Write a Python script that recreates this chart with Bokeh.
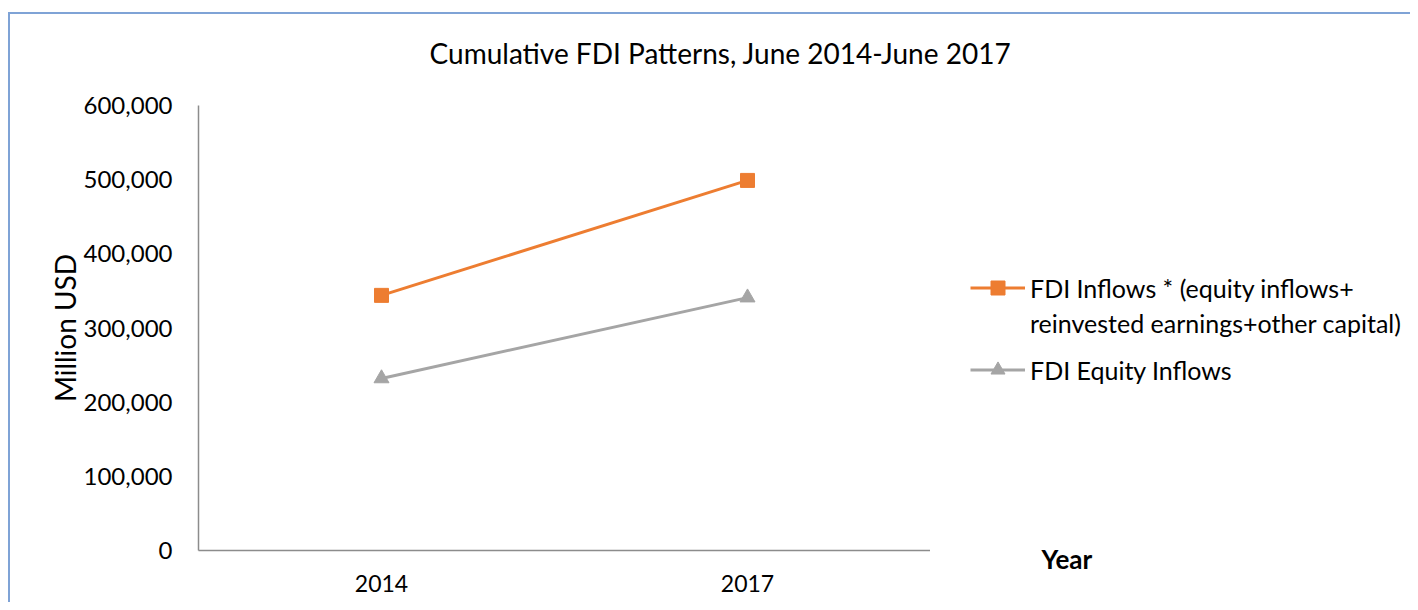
from bokeh.plotting import figure
from bokeh.layouts import column, row
from bokeh.models import (FactorRange, Range1d, NumeralTickFormatter, Legend, LegendItem,
                          Label, Title, FixedTicker)
from bokeh.embed import file_html
from bokeh.resources import INLINE

years = ["2014", "2017"]
fdi_inflows = [344000, 499000]
fdi_equity = [232000, 341000]
y_ticks = [0, 100000, 200000, 300000, 400000, 500000, 600000]
title_text = "Cumulative FDI Patterns, June 2014-June 2017"
label_inflows_1 = "FDI Inflows * (equity inflows+"
label_inflows_2 = "reinvested earnings+other capital)"
label_equity = "FDI Equity Inflows"
x_title = "Year"
y_title = "Million USD"

FONT = "Lato"
ORANGE = "#ED7D31"
GRAY = "#A5A5A5"
BORDER = "#7FA3D6"


def bare(fig):
    fig.outline_line_color = None
    fig.grid.visible = False
    fig.border_fill_alpha = 0
    fig.background_fill_alpha = 0
    return fig


# ---- title strip -------------------------------------------------------
t = bare(figure(width=1410, height=91, output_backend="svg", toolbar_location=None,
                x_axis_location=None, y_axis_location=None, min_border=0))
t.add_layout(Label(x=720, y=39, x_units="screen", y_units="screen", text=title_text,
                   text_font=FONT, text_font_size="28px", text_color="#000000",
                   text_align="center", text_baseline="middle"))

# ---- main chart ---------------------------------------------------------
p = figure(width=930, height=511, output_backend="svg", toolbar_location=None,
           x_range=FactorRange(factors=years, range_padding=0),
           y_range=Range1d(0, 600000))
p.min_border_left = 198
p.min_border_right = 0
p.min_border_top = 14
p.min_border_bottom = 52
p.outline_line_color = None
p.grid.visible = False
p.background_fill_color = "white"
p.border_fill_alpha = 0

r1 = p.line(years, fdi_inflows, line_color=ORANGE, line_width=3)
m1 = p.scatter(years, fdi_inflows, marker="square", size=14, fill_color=ORANGE, line_color=ORANGE)
r2 = p.line(years, fdi_equity, line_color=GRAY, line_width=3)
m2 = p.scatter(years, fdi_equity, marker="triangle", size=15, fill_color=GRAY, line_color=GRAY)

for ax in (p.xaxis[0], p.yaxis[0]):
    ax.major_tick_line_color = None
    ax.minor_tick_line_color = None
    ax.axis_line_color = "#8C8C8C"
    ax.axis_line_width = 1.5
    ax.major_label_text_font = FONT
    ax.major_label_text_font_size = "23px"
    ax.major_label_text_color = "#000000"

p.yaxis[0].ticker = FixedTicker(ticks=y_ticks)
p.yaxis[0].formatter = NumeralTickFormatter(format="0,0")
p.yaxis[0].major_label_text_font_size = "24px"
p.yaxis[0].major_label_standoff = 20
p.yaxis[0].axis_label = y_title
p.yaxis[0].axis_label_text_font = FONT
p.yaxis[0].axis_label_text_font_size = "28px"
p.yaxis[0].axis_label_text_font_style = "normal"
p.yaxis[0].axis_label_text_color = "#000000"
p.yaxis[0].axis_label_standoff = -1
p.xaxis[0].major_label_standoff = 18

# ---- legend / axis-title strip on the right ------------------------------
q = bare(figure(width=480, height=511, output_backend="svg", toolbar_location=None,
                x_range=FactorRange(factors=years, range_padding=0),
                y_range=Range1d(0, 600000),
                x_axis_location=None, y_axis_location=None, min_border=0))
q1 = q.line(years, fdi_inflows, line_color=ORANGE, line_width=3, visible=False)
qm1 = q.scatter(years, fdi_inflows, marker="square", size=14, fill_color=ORANGE,
                line_color=ORANGE, visible=False)
q2 = q.line(years, fdi_equity, line_color=GRAY, line_width=3, visible=False)
qm2 = q.scatter(years, fdi_equity, marker="triangle", size=15, fill_color=GRAY,
                line_color=GRAY, visible=False)

common = dict(label_text_font=FONT, label_text_font_size="25px", label_text_color="#000000",
              glyph_width=55, glyph_height=35, label_standoff=5,
              border_line_color=None, background_fill_alpha=0, padding=0, margin=0)

legend_a = Legend(items=[LegendItem(label=label_inflows_1, renderers=[q1, qm1]),
                         LegendItem(label=label_inflows_2, renderers=[])],
                  location=(40, 210), spacing=-3, **common)
q.add_layout(legend_a)
legend_b = Legend(items=[LegendItem(label=label_equity, renderers=[q2, qm2])],
                  location=(40, 163), **common)
q.add_layout(legend_b)

q.add_layout(Title(text=x_title, text_font=FONT, text_font_size="26px",
                   text_font_style="bold", text_color="#000000",
                   align="left", offset=111, vertical_align="top", standoff=-16), "below")

layout = column(t, row(p, q))
layout.styles = {
    "background": (f"linear-gradient({BORDER},{BORDER}) 9px 12px / 1420px 2px no-repeat, "
                   f"linear-gradient({BORDER},{BORDER}) 8px 12px / 2px 620px no-repeat, #ffffff")
}

open("out.html", "w").write(file_html(layout, INLINE))
